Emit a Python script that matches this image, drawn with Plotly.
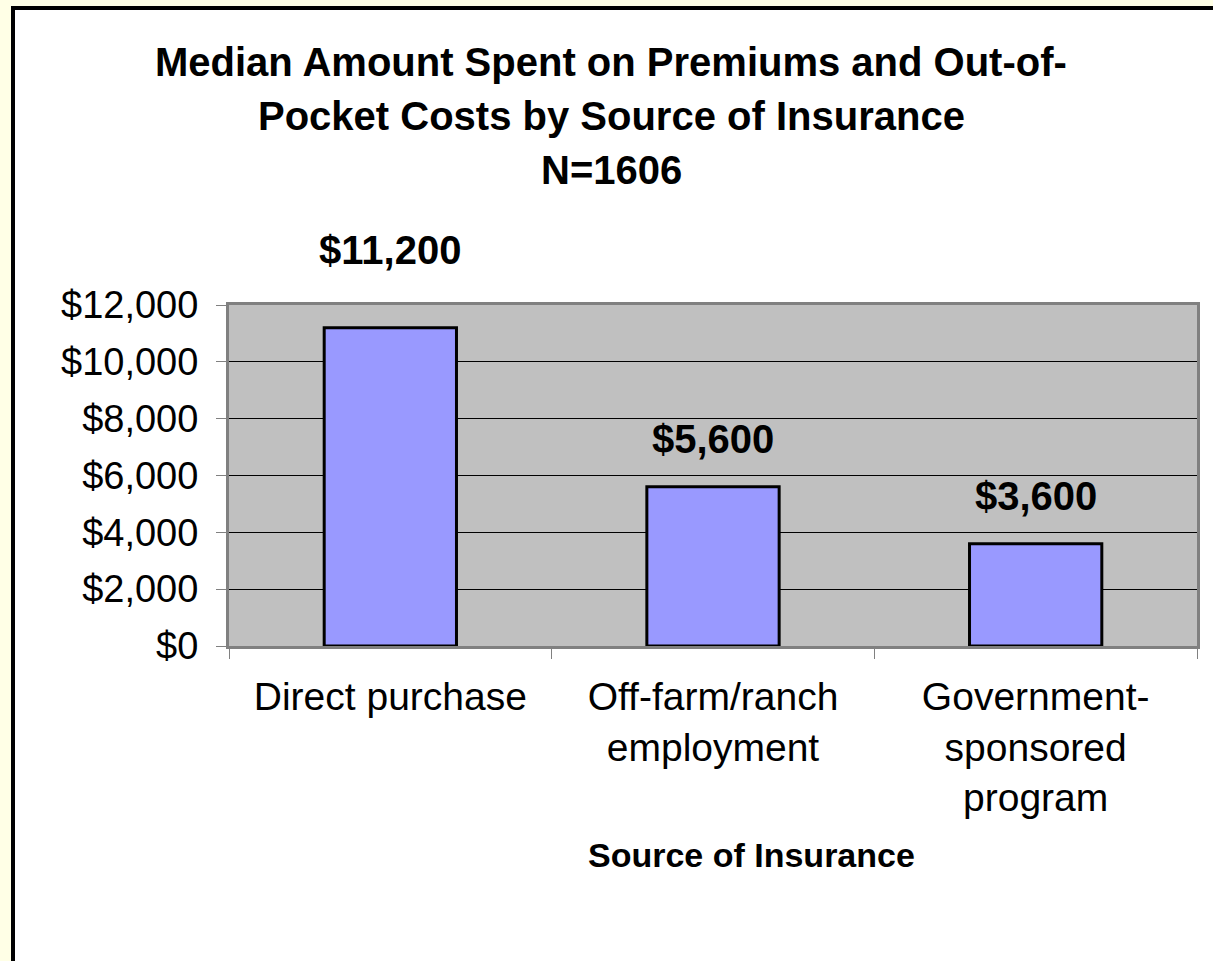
import plotly.graph_objects as go

# Median spend on premiums + out-of-pocket costs, by insurance source
categories = ["Direct purchase", "Off-farm/ranch<br>employment", "Government-<br>sponsored<br>program"]
median_spent = [11200, 5600, 3600]
y_tick_values = [0, 2000, 4000, 6000, 8000, 10000, 12000]
y_tick_labels = ["$0", "$2,000", "$4,000", "$6,000", "$8,000", "$10,000", "$12,000"]
title_lines = [
    "Median Amount Spent on Premiums and Out-of-",
    "Pocket Costs by Source of Insurance",
    "N=1606",
]
x_axis_title = "Source of Insurance"

# vertical offsets (px) of the value labels above each bar
label_offsets = [54, 24, 24]
# vertical centres (px from top) of the title lines
title_centres = [62, 116, 170]

FONT = "Liberation Sans, Arial, sans-serif"

# plot-area edges in pixels
L, R, T, B = 229, 1197, 305, 646
pw, ph = R - L, B - T
def px_x(v):
    return (v - L) / pw
def px_y(v):
    return (B - v) / ph

fig = go.Figure()
fig.add_trace(go.Bar(
    x=categories,
    y=median_spent,
    marker=dict(color="#9999FF", line=dict(color="black", width=3)),
    width=0.41,
    hoverinfo="skip",
))

for cat, val, off in zip(categories, median_spent, label_offsets):
    fig.add_annotation(
        x=cat, y=val, xref="x", yref="y",
        text=f"<b>${val:,}</b>",
        showarrow=False, yanchor="bottom", yshift=off,
        font=dict(family=FONT, size=40, color="black"),
    )

for line, yc in zip(title_lines, title_centres):
    fig.add_annotation(
        x=px_x(611), y=px_y(yc), xref="paper", yref="paper",
        text=f"<b>{line}</b>", showarrow=False,
        xanchor="center", yanchor="middle",
        font=dict(family=FONT, size=40, color="black"),
    )

# category-axis title
fig.add_annotation(
    x=px_x(751), y=px_y(855), xref="paper", yref="paper",
    text=f"<b>{x_axis_title}</b>", showarrow=False,
    xanchor="center", yanchor="middle",
    font=dict(family=FONT, size=34, color="black"),
)

# white chart panel with black edge on a pale-yellow page
fig.add_shape(
    type="rect", xref="paper", yref="paper",
    x0=px_x(13), x1=px_x(1240), y0=px_y(990), y1=px_y(8),
    line=dict(color="black", width=4), fillcolor="white", layer="below",
)
# grey plot-area fill
fig.add_shape(
    type="rect", xref="paper", yref="paper",
    x0=0, x1=1, y0=0, y1=1,
    line=dict(width=0), fillcolor="#C0C0C0", layer="below",
)

fig.update_layout(
    width=1213, height=961,
    margin=dict(l=L, r=1213 - R, t=T, b=961 - B),
    paper_bgcolor="#FFFFE6",
    plot_bgcolor="#C0C0C0",
    showlegend=False,
    bargap=0.59,
    font=dict(family=FONT, color="black"),
)

fig.update_xaxes(
    showline=True, linecolor="#808080", linewidth=3, mirror=True,
    ticks="outside", tickson="boundaries", ticklen=10, tickcolor="#808080", tickwidth=1,
    tickfont=dict(family=FONT, size=39, color="black"),
    ticklabelstandoff=14,
    showgrid=False,
)
fig.update_yaxes(
    range=[0, 12000],
    tickvals=y_tick_values, ticktext=y_tick_labels,
    showline=True, linecolor="#808080", linewidth=3, mirror=True,
    ticks="outside", ticklen=10, tickcolor="#808080", tickwidth=1,
    tickfont=dict(family=FONT, size=38, color="black"),
    ticklabelstandoff=10,
    showgrid=True, gridcolor="black", gridwidth=1,
    zeroline=False,
)

fig.write_html("out.html")
